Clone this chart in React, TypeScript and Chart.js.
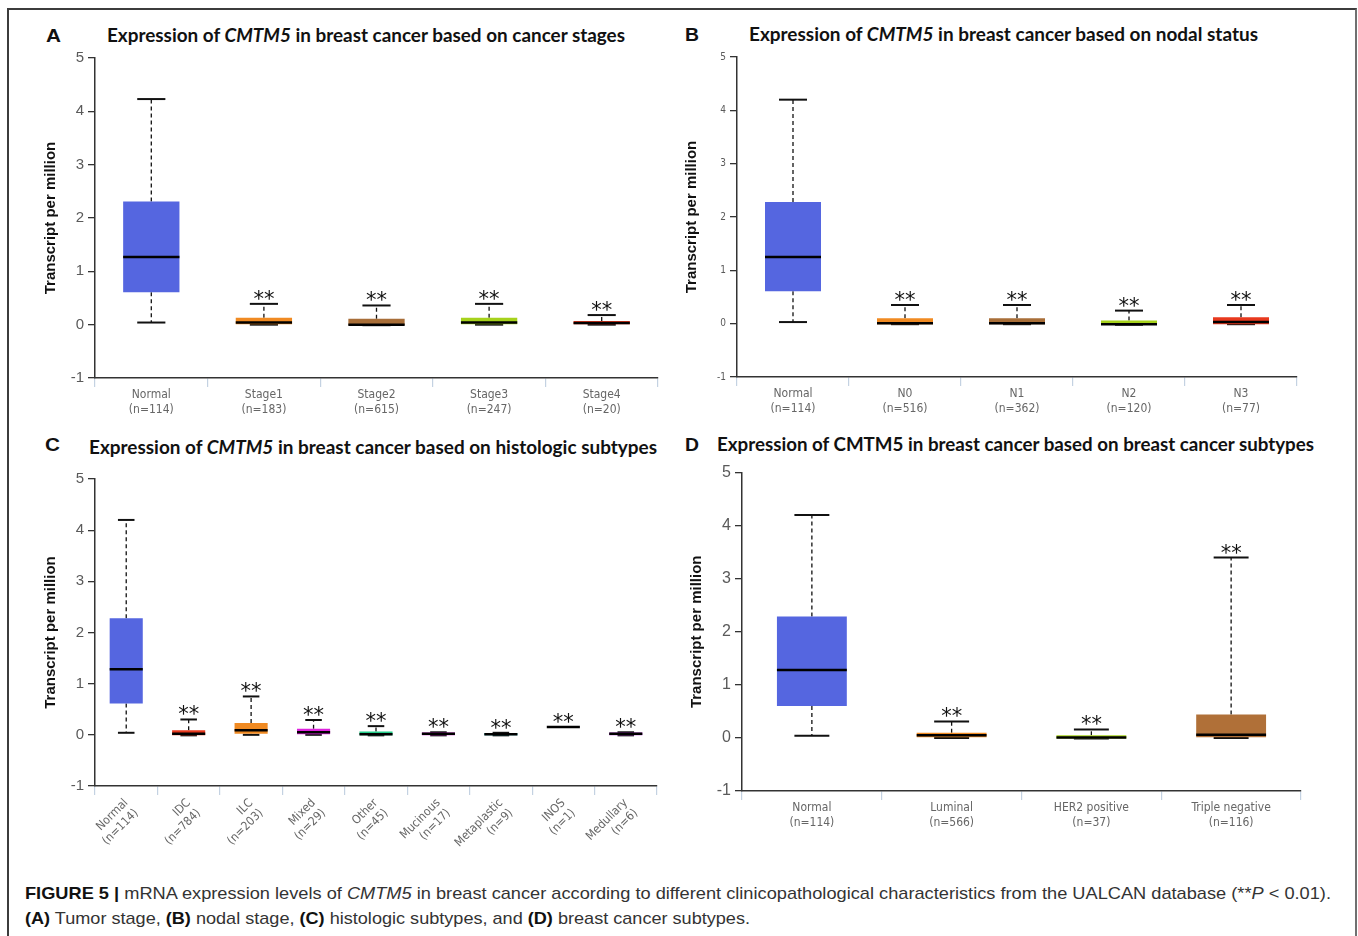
import React, { useEffect, useLayoutEffect, useRef } from 'react';
import { Chart, registerables } from 'chart.js';
Chart.register(...registerables);

// ---------- Data ----------
const yTickMin = -1;
const yTickMax = 5;

// Panel A: cancer stages
const stageLabels = [['Normal', '(n=114)'], ['Stage1', '(n=183)'], ['Stage2', '(n=615)'], ['Stage3', '(n=247)'], ['Stage4', '(n=20)']];
const stageMin = [0.04, 0.0, -0.01, 0.0, 0.0];
const stageQ1 = [0.61, 0.01, -0.01, 0.01, 0.01];
const stageMedian = [1.27, 0.04, 0.0, 0.04, 0.03];
const stageQ3 = [2.31, 0.13, 0.11, 0.13, 0.07];
const stageMax = [4.23, 0.39, 0.36, 0.39, 0.18];
const stageColors = ['#5566e0', '#f08a22', '#a86e38', '#a6d21c', '#e8391e'];
const stageSig = ['', '**', '**', '**', '**'];

// Panel B: nodal status
const nodalLabels = [['Normal', '(n=114)'], ['N0', '(n=516)'], ['N1', '(n=362)'], ['N2', '(n=120)'], ['N3', '(n=77)']];
const nodalMin = [0.03, -0.01, -0.01, -0.02, -0.01];
const nodalQ1 = [0.61, -0.01, -0.01, -0.02, -0.01];
const nodalMedian = [1.25, 0.01, 0.01, -0.01, 0.03];
const nodalQ3 = [2.28, 0.1, 0.1, 0.06, 0.12];
const nodalMax = [4.2, 0.35, 0.35, 0.245, 0.35];
const nodalColors = ['#5566e0', '#f08a22', '#a86e38', '#a6d21c', '#e8391e'];
const nodalSig = ['', '**', '**', '**', '**'];

// Panel C: histologic subtypes
const histoLabels = [['Normal', '(n=114)'], ['IDC', '(n=784)'], ['ILC', '(n=203)'], ['Mixed', '(n=29)'], ['Other', '(n=45)'], ['Mucinous', '(n=17)'], ['Metaplastic', '(n=9)'], ['INOS', '(n=1)'], ['Medullary', '(n=6)']];
const histoMin = [0.04, -0.01, 0.0, 0.0, -0.01, -0.01, -0.01, 0.155, -0.01];
const histoQ1 = [0.61, -0.01, 0.02, 0.0, -0.01, -0.01, -0.01, 0.155, -0.01];
const histoMedian = [1.28, 0.02, 0.09, 0.05, 0.01, 0.02, 0.01, 0.155, 0.02];
const histoQ3 = [2.28, 0.09, 0.23, 0.12, 0.065, 0.045, 0.03, 0.155, 0.045];
const histoMax = [4.2, 0.3, 0.75, 0.29, 0.17, 0.05, 0.04, 0.155, 0.05];
const histoColors = ['#5566e0', '#e8391e', '#f08a22', '#dd22dd', '#22cc88', '#d020d0', '#20c0c0', '#000000', '#b030d0'];
const histoSig = ['', '**', '**', '**', '**', '**', '**', '**', '**'];

// Panel D: breast cancer subtypes
const subtypeLabels = [['Normal', '(n=114)'], ['Luminal', '(n=566)'], ['HER2 positive', '(n=37)'], ['Triple negative', '(n=116)']];
const subtypeMin = [0.04, 0.0, -0.01, 0.0];
const subtypeQ1 = [0.6, 0.0, -0.01, 0.0];
const subtypeMedian = [1.28, 0.05, 0.01, 0.06];
const subtypeQ3 = [2.29, 0.1, 0.05, 0.44];
const subtypeMax = [4.2, 0.31, 0.16, 3.4];
const subtypeColors = ['#5566e0', '#f08a22', '#a6d21c', '#b07038'];
const subtypeSig = ['', '**', '**', '**'];

const COND = "'DejaVu Sans Condensed', 'Liberation Sans Narrow', sans-serif";

// ---------- Box-whisker plugin ----------
function makeBoxPlugin(min: number[], median: number[], max: number[], q1: number[], q3: number[], sig: string[]) {
  const line = (ctx: CanvasRenderingContext2D, x1: number, y1: number, x2: number, y2: number) => {
    ctx.beginPath();
    ctx.moveTo(x1, y1);
    ctx.lineTo(x2, y2);
    ctx.stroke();
  };
  return {
    id: 'boxWhisker',
    beforeDatasetsDraw(chart: any) {
      const { ctx, scales } = chart;
      const x = scales.x, y = scales.y;
      const meta = chart.getDatasetMeta(0);
      ctx.save();
      ctx.strokeStyle = '#111';
      meta.data.forEach((bar: any, i: number) => {
        const cx = x.getPixelForValue(i);
        const w = bar.width;
        const yMin = y.getPixelForValue(min[i]);
        const yMax = y.getPixelForValue(max[i]);
        const yQ1 = y.getPixelForValue(q1[i]);
        const yQ3 = y.getPixelForValue(q3[i]);
        ctx.lineWidth = 1.3;
        ctx.setLineDash([4, 3]);
        if (yMax < yQ3) line(ctx, cx, yQ3, cx, yMax);
        if (yMin > yQ1) line(ctx, cx, yQ1, cx, yMin);
        ctx.setLineDash([]);
        ctx.lineWidth = 2;
        if (max[i] !== median[i]) line(ctx, cx - w / 4, yMax, cx + w / 4, yMax);
        if (min[i] !== median[i]) line(ctx, cx - w / 4, yMin, cx + w / 4, yMin);
      });
      ctx.restore();
    },
    afterDatasetsDraw(chart: any) {
      const { ctx, scales } = chart;
      const x = scales.x, y = scales.y;
      const meta = chart.getDatasetMeta(0);
      ctx.save();
      meta.data.forEach((bar: any, i: number) => {
        const cx = x.getPixelForValue(i);
        const w = bar.width;
        const yMed = y.getPixelForValue(median[i]);
        const yMax = y.getPixelForValue(max[i]);
        ctx.strokeStyle = '#000';
        ctx.lineWidth = 2.5;
        line(ctx, cx - w / 2, yMed, cx + w / 2, yMed);
        if (sig[i]) {
          ctx.fillStyle = '#111';
          ctx.font = "21px 'DejaVu Sans', sans-serif";
          ctx.textAlign = 'center';
          ctx.textBaseline = 'alphabetic';
          ctx.fillText(sig[i], cx, yMax + 2);
        }
      });
      ctx.restore();
    },
  };
}

type PanelProps = {
  labels: string[][];
  min: number[]; q1: number[]; median: number[]; q3: number[]; max: number[];
  colors: string[]; sig: string[];
  left: number; top: number; width: number; height: number;
  yWidth: number; xHeight: number; padTop: number; padRight: number;
  yTitlePad: number; yTickFont: any; xTickFont: any; rotation: number; barPct: number;
};

function BoxPanel(p: PanelProps) {
  const ref = useRef<HTMLCanvasElement>(null);
  useEffect(() => {
    const canvas = ref.current!;
    const chart = new Chart(canvas, {
      type: 'bar',
      data: {
        labels: p.labels as any,
        datasets: [{
          data: p.q1.map((v, i) => [v, p.q3[i]]) as any,
          backgroundColor: p.colors,
          borderWidth: 0,
          barPercentage: p.barPct,
          categoryPercentage: 1,
        }],
      },
      options: {
        animation: false,
        responsive: false,
        devicePixelRatio: 1,
        layout: { padding: { top: p.padTop, right: p.padRight, left: 0, bottom: 0 } },
        plugins: { legend: { display: false }, tooltip: { enabled: false }, title: { display: false } },
        scales: {
          x: {
            offset: true,
            ticks: { color: '#666', font: p.xTickFont, maxRotation: p.rotation, minRotation: p.rotation, autoSkip: false, padding: 1 },
            grid: { offset: true, drawOnChartArea: false, drawTicks: true, tickLength: 9, color: '#c4d2e2', lineWidth: 1.2 },
            border: { display: true, color: '#333', width: 1.5 },
            afterFit: (s: any) => { s.height = p.xHeight; },
          },
          y: {
            min: yTickMin,
            max: yTickMax,
            ticks: { stepSize: 1, color: '#5a5a5a', font: p.yTickFont, padding: 4 },
            grid: { drawOnChartArea: false, drawTicks: true, tickLength: 7, color: '#333', lineWidth: 1.3 },
            border: { display: true, color: '#333', width: 1.5 },
            title: {
              display: true, text: 'Transcript per million', color: '#111',
              font: { family: "'Liberation Sans', Arial, sans-serif", size: 15, weight: 'bold' },
              padding: { top: p.yTitlePad, bottom: 0 },
            },
            afterFit: (s: any) => { s.width = p.yWidth; },
          },
        },
      } as any,
      plugins: [makeBoxPlugin(p.min, p.median, p.max, p.q1, p.q3, p.sig)],
    });
    return () => chart.destroy();
  }, []);
  return (
    <canvas ref={ref} width={p.width} height={p.height}
      style={{ position: 'absolute', left: p.left, top: p.top, width: p.width, height: p.height }} />
  );
}

function FitText(props: { x: number; y: number; w: number; size: number; family: string; weight?: number; color?: string; children: any }) {
  const ref = useRef<HTMLDivElement>(null);
  useLayoutEffect(() => {
    const el = ref.current!;
    const fit = () => {
      el.style.transform = 'none';
      const nat = el.getBoundingClientRect().width;
      if (nat > 0) el.style.transform = `scaleX(${props.w / nat})`;
    };
    fit();
    (document as any).fonts?.ready?.then(fit);
  }, []);
  const lh = Math.round(props.size * 1.4);
  return (
    <div ref={ref} style={{
      position: 'absolute', left: props.x, top: props.y - lh / 2, height: lh, lineHeight: lh + 'px',
      fontSize: props.size, fontFamily: props.family, fontWeight: props.weight ?? 400, color: props.color ?? '#111',
      whiteSpace: 'nowrap', transformOrigin: '0 50%',
    }}>{props.children}</div>
  );
}

const TITLE_FONT = "Lato, 'Open Sans', sans-serif";
const LETTER_FONT = "'Liberation Sans', Arial, sans-serif";

export default function App() {
  return (
    <div style={{ position: 'fixed', left: 0, top: 0, width: 1358, height: 936, background: '#fff', overflow: 'hidden' }}>
      <div style={{ position: 'absolute', left: 7, top: 8, width: 1346, height: 1000, borderTop: '2px solid #3c3c3c', borderLeft: '2px solid #3c3c3c', borderRight: '2px solid #707070' }} />

      <FitText x={46} y={35} w={15} size={19} family={LETTER_FONT} weight={700}>A</FitText>
      <FitText x={107} y={35} w={518} size={18} family={TITLE_FONT} weight={700}>Expression of <i>CMTM5</i> in breast cancer based on cancer stages</FitText>
      <FitText x={685} y={34} w={14} size={19} family={LETTER_FONT} weight={700}>B</FitText>
      <FitText x={749} y={34} w={509} size={18} family={TITLE_FONT} weight={700}>Expression of <i>CMTM5</i> in breast cancer based on nodal status</FitText>
      <FitText x={45} y={444} w={15} size={19} family={LETTER_FONT} weight={700}>C</FitText>
      <FitText x={89} y={447} w={568} size={18} family={TITLE_FONT} weight={700}>Expression of <i>CMTM5</i> in breast cancer based on histologic subtypes</FitText>
      <FitText x={685} y={444} w={14} size={19} family={LETTER_FONT} weight={700}>D</FitText>
      <FitText x={717} y={444} w={597} size={18} family={TITLE_FONT} weight={700}>Expression of CMTM5 in breast cancer based on breast cancer subtypes</FitText>

      <BoxPanel labels={stageLabels} min={stageMin} q1={stageQ1} median={stageMedian} q3={stageQ3} max={stageMax}
        colors={stageColors} sig={stageSig} left={30} top={45} width={640} height={380} yWidth={65} xHeight={47}
        padTop={12} padRight={12} yTitlePad={12} rotation={0} barPct={0.5}
        yTickFont={{ family: "'Liberation Sans', Arial, sans-serif", size: 15 }} xTickFont={{ family: COND, size: 12 }} />
      <BoxPanel labels={nodalLabels} min={nodalMin} q1={nodalQ1} median={nodalMedian} q3={nodalQ3} max={nodalMax}
        colors={nodalColors} sig={nodalSig} left={672} top={45} width={637} height={380} yWidth={65} xHeight={48}
        padTop={12} padRight={12} yTitlePad={11} rotation={0} barPct={0.5}
        yTickFont={{ family: COND, size: 10 }} xTickFont={{ family: COND, size: 12 }} />
      <BoxPanel labels={histoLabels} min={histoMin} q1={histoQ1} median={histoMedian} q3={histoQ3} max={histoMax}
        colors={histoColors} sig={histoSig} left={30} top={466} width={640} height={394} yWidth={65} xHeight={74}
        padTop={12} padRight={13} yTitlePad={12} rotation={45} barPct={0.53}
        yTickFont={{ family: "'Liberation Sans', Arial, sans-serif", size: 15 }} xTickFont={{ family: COND, size: 12 }} />
      <BoxPanel labels={subtypeLabels} min={subtypeMin} q1={subtypeQ1} median={subtypeMedian} q3={subtypeQ3} max={subtypeMax}
        colors={subtypeColors} sig={subtypeSig} left={672} top={459} width={640} height={381} yWidth={70} xHeight={49}
        padTop={12} padRight={11} yTitlePad={16} rotation={0} barPct={0.5}
        yTickFont={{ family: "'Liberation Sans Narrow', 'Liberation Sans', sans-serif", size: 16 }} xTickFont={{ family: COND, size: 12 }} />

      <FitText x={25} y={894} w={1306} size={17} family={LETTER_FONT} color="#333">
        <b style={{ color: '#111' }}>FIGURE 5 |</b> mRNA expression levels of <i>CMTM5</i> in breast cancer according to different clinicopathological characteristics from the UALCAN database (**<i>P</i> &lt; 0.01).
      </FitText>
      <FitText x={25} y={919} w={725} size={17} family={LETTER_FONT} color="#333">
        <b style={{ color: '#111' }}>(A)</b> Tumor stage, <b style={{ color: '#111' }}>(B)</b> nodal stage, <b style={{ color: '#111' }}>(C)</b> histologic subtypes, and <b style={{ color: '#111' }}>(D)</b> breast cancer subtypes.
      </FitText>
    </div>
  );
}
